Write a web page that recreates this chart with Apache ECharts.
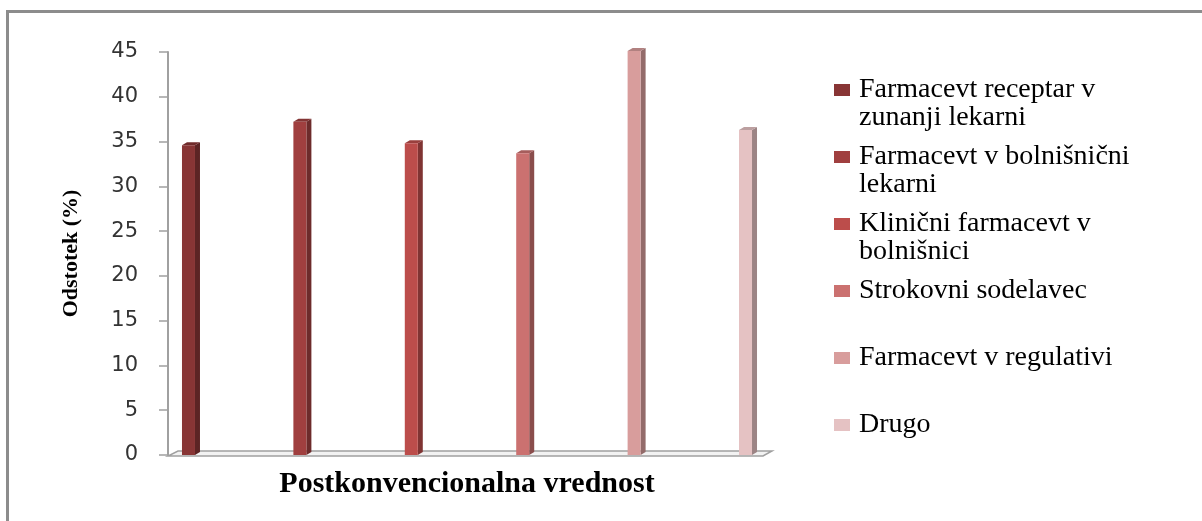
<!DOCTYPE html>
<html><head><meta charset="utf-8">
<script src="https://cdn.jsdelivr.net/npm/echarts@6/dist/echarts.min.js"></script>
<style>html,body{margin:0;padding:0;background:#fff}#c{width:1202px;height:521px}</style>
</head><body><div id="c"></div>
<script>
const categories = ['Postkonvencionalna vrednost'];
const seriesNames = [
  'Farmacevt receptar v zunanji lekarni',
  'Farmacevt v bolnišnični lekarni',
  'Klinični farmacevt v bolnišnici',
  'Strokovni sodelavec',
  'Farmacevt v regulativi',
  'Drugo'
];
const legendLines = [
  ['Farmacevt receptar v', 'zunanji lekarni'],
  ['Farmacevt v bolnišnični', 'lekarni'],
  ['Klinični farmacevt v', 'bolnišnici'],
  ['Strokovni sodelavec', ' '],
  ['Farmacevt v regulativi', ' '],
  ['Drugo', ' ']
];
const values = [34.6, 37.2, 34.8, 33.7, 45.1, 36.3];
const yMin = 0, yMax = 45, yInterval = 5;
const colors = ['#883535', '#A03F3F', '#BC4D4B', '#CB7170', '#D89D9C', '#E5C2C3'];

function shade(hex, f) {
  const n = parseInt(hex.slice(1), 16);
  const r = Math.round(((n >> 16) & 255) * f), g = Math.round(((n >> 8) & 255) * f), b = Math.round((n & 255) * f);
  return 'rgb(' + r + ',' + g + ',' + b + ')';
}

const GRID = {left: 168, right: 436, top: 52, bottom: 66};
const SPACING = 0.1863, BAR_W = 13, DX = 5, DY = 3;

const chart = echarts.init(document.getElementById('c'));

const floorSeries = {
  type: 'custom', name: '__floor', silent: true, z: 1,
  data: [[0, 0]], encode: {x: 0, y: 1},
  renderItem: function (params, api) {
    const base = api.coord([api.value(0), 0]);
    const band = api.size([1, 0])[0];
    const L = base[0] - band / 2, R = base[0] + band / 2, y = base[1];
    return {
      type: 'polygon',
      shape: {points: [[L, y + 1], [R - 3, y + 1], [R + 6, y - 4], [L + 10, y - 4]]},
      style: {fill: '#f2f2f2', stroke: '#a0a0a0', lineWidth: 1.5}
    };
  }
};

const barSeries = seriesNames.map(function (name, i) {
  return {
    type: 'custom', name: name, z: 2,
    itemStyle: {color: colors[i]},
    data: [[0, values[i]]], encode: {x: 0, y: 1},
    renderItem: function (params, api) {
      const base = api.coord([api.value(0), 0]);
      const top = api.coord([api.value(0), api.value(1)]);
      const band = api.size([1, 0])[0];
      const cx = base[0] + (i - 2.5) * band * SPACING;
      const x0 = cx - BAR_W / 2, x1 = cx + BAR_W / 2, yb = base[1], yt = top[1];
      return {
        type: 'group',
        children: [
          {type: 'polygon', shape: {points: [[x1, yt], [x1 + DX, yt - DY], [x1 + DX, yb - DY], [x1, yb]]},
           style: {fill: shade(colors[i], 0.68)}},
          {type: 'polygon', shape: {points: [[x0, yt], [x0 + DX, yt - DY], [x1 + DX, yt - DY], [x1, yt]]},
           style: {fill: shade(colors[i], 0.82)}},
          {type: 'rect', shape: {x: x0, y: yt, width: BAR_W, height: yb - yt},
           style: {fill: colors[i]}}
        ]
      };
    }
  };
});

chart.setOption({
  animation: false,
  backgroundColor: '#ffffff',
  grid: GRID,
  graphic: [{
    type: 'rect', silent: true, z: 0,
    shape: {x: 7.5, y: 11.5, width: 1300, height: 600},
    style: {fill: 'none', stroke: '#8c8c8c', lineWidth: 3}
  }],
  legend: {
    data: seriesNames,
    orient: 'vertical',
    left: 834, top: 48, padding: 0,
    itemWidth: 16, itemHeight: 12, itemGap: -17,
    icon: 'rect',
    selectedMode: false,
    formatter: function (name) { return '\n' + legendLines[seriesNames.indexOf(name)].join('\n'); },
    textStyle: {fontFamily: 'Liberation Serif', fontSize: 28, color: '#000', lineHeight: 28, padding: [0, 0, 0, 4]}
  },
  xAxis: {
    type: 'category', data: categories, boundaryGap: true,
    axisLine: {show: false}, axisTick: {show: false},
    axisLabel: {margin: 14, fontFamily: 'Liberation Serif', fontWeight: 'bold', fontSize: 30, color: '#000'}
  },
  yAxis: {
    type: 'value', min: yMin, max: yMax, interval: yInterval,
    name: 'Odstotek (%)', nameLocation: 'middle', nameGap: 86,
    nameTextStyle: {fontFamily: 'Liberation Serif', fontWeight: 'bold', fontSize: 22, color: '#000'},
    axisLine: {show: true, lineStyle: {color: '#a0a0a0', width: 2}},
    axisTick: {show: true, length: 9, lineStyle: {color: '#a0a0a0', width: 1.5}},
    splitLine: {show: false},
    axisLabel: {margin: 30, fontFamily: 'DejaVu Sans', fontSize: 21, color: '#333'}
  },
  series: [floorSeries].concat(barSeries)
});
</script>
</body></html>
